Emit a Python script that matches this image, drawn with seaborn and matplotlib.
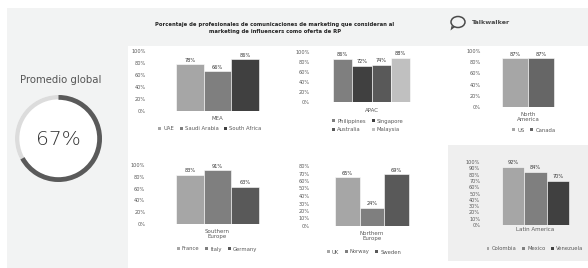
import numpy as np
import pandas as pd
import matplotlib
matplotlib.use("Agg")
import matplotlib.pyplot as plt
import seaborn as sns
from matplotlib.patches import Rectangle, Wedge, Circle, Ellipse, Polygon

sns.set_theme(style="white")
plt.rcParams['font.family'] = ['DejaVu Sans']

W, H = 588, 268

# ---------------- data ----------------
title = ("Porcentaje de profesionales de comunicaciones de marketing que consideran al\n"
         "marketing de influencers como oferta de RP")
brand = "Talkwalker"
global_label = "Promedio global"
global_value = 67

mea_region = "MEA"
mea_countries = ["UAE", "Saudi Arabia", "South Africa"]
mea_values = [78, 66, 86]

apac_region = "APAC"
apac_countries = ["Philippines", "Singapore", "Australia", "Malaysia"]
apac_values = [86, 72, 74, 88]

na_region = "North\nAmerica"
na_countries = ["US", "Canada"]
na_values = [87, 87]

se_region = "Southern\nEurope"
se_countries = ["France", "Italy", "Germany"]
se_values = [83, 91, 63]

ne_region = "Northern\nEurope"
ne_countries = ["UK", "Norway", "Sweden"]
ne_values = [65, 24, 69]

la_region = "Latin America"
la_countries = ["Colombia", "Mexico", "Venezuela"]
la_values = [92, 84, 70]

# ---------------- figure ----------------
fig = plt.figure(figsize=(W / 100, H / 100), dpi=100, facecolor="white")


def fx(px):
    return px / W


def fy(py):
    return 1 - py / H


def frect(x0, y0, x1, y1, color):
    fig.patches.append(Rectangle((fx(x0), fy(y1)), (x1 - x0) / W, (y1 - y0) / H,
                                 transform=fig.transFigure, facecolor=color,
                                 edgecolor="none", zorder=-10))


# backgrounds
frect(7, 8, 588, 268, "#f2f3f3")
frect(128, 46, 588, 268, "#ffffff")
frect(448, 145, 588, 261, "#efefef")

# title and brand
fig.text(fx(275), fy(28), title, ha="center", va="center", fontsize=3.8,
         fontweight="bold", color="#222222", linespacing=1.45)
fig.text(fx(472), fy(22.5), brand, ha="left", va="center", fontsize=4.6,
         fontweight="bold", color="#4a4a4a")
fig.patches.append(Ellipse((fx(458), fy(22)), 14 / W, 11 / H, transform=fig.transFigure,
                           facecolor="none", edgecolor="#4a4a4a", linewidth=1.1))
fig.patches.append(Polygon([(fx(451.5), fy(26)), (fx(455), fy(27)), (fx(450.5), fy(30.5))],
                           closed=True, transform=fig.transFigure,
                           facecolor="#4a4a4a", edgecolor="none"))

# donut (global average)
fig.text(fx(61), fy(80), global_label, ha="center", va="center", fontsize=7.3,
         color="#555555")
axd = fig.add_axes([fx(10), fy(187), 97 / W, 97 / H])
lim = 48.5 / 43.5
axd.set_xlim(-lim, lim)
axd.set_ylim(-lim, lim)
axd.axis("off")
axd.add_patch(Circle((0, 0), 1.0, facecolor="white", edgecolor="none"))
axd.add_patch(Wedge((0, 0), 1.0, 0, 360, width=0.1, facecolor="#dcdcdc", edgecolor="none"))
axd.add_patch(Wedge((0, 0), 1.0, 90 - 3.6 * global_value, 90, width=0.11,
                    facecolor="#5a5a5a", edgecolor="none"))
axd.text(0, -0.03, f"{global_value}%", ha="center", va="center", fontsize=14.5,
         color="#333333", fontweight="light")


def panel(region, countries, values, colors, left, right, y0, ytop, ymax, ystep,
          width, ytick_pad, xlab_pad, leg_xy, ncol, leg_order=None):
    ax = fig.add_axes([fx(left), fy(y0), (right - left) / W, (y0 - ytop) / H])
    df = pd.DataFrame({"region": [region] * len(countries),
                       "country": countries, "value": values})
    sns.barplot(data=df, x="region", y="value", hue="country", hue_order=countries,
                palette=colors, width=width, saturation=1, ax=ax, legend=False,
                edgecolor="white", linewidth=0.4)
    ax.set_xlim(-0.5, 0.5)
    ax.set_ylim(0, ymax)
    ticks = np.arange(0, ymax + 1, ystep)
    ax.set_yticks(ticks)
    ax.set_yticklabels([f"{t}%" for t in ticks])
    for c in ax.containers:
        ax.bar_label(c, fmt="%g%%", fontsize=3.6, padding=1.2, color="#333333")
    for s in ax.spines.values():
        s.set_visible(False)
    ax.axhline(0, color="#d9d9d9", linewidth=0.7, zorder=0)
    ax.patch.set_alpha(0)
    ax.tick_params(axis="y", length=0, pad=ytick_pad, labelsize=3.6, labelcolor="#595959")
    ax.tick_params(axis="x", length=0, pad=xlab_pad, labelsize=4, labelcolor="#595959")
    for t in ax.get_xticklabels():
        t.set_linespacing(1.0)
    ax.set_xlabel("")
    ax.set_ylabel("")
    handles = [Rectangle((0, 0), 1, 1, facecolor=c, edgecolor="none") for c in colors]
    labels = list(countries)
    if leg_order is not None:
        handles = [handles[i] for i in leg_order]
        labels = [labels[i] for i in leg_order]
    fig.legend(handles, labels, loc="center", bbox_to_anchor=(fx(leg_xy[0]), fy(leg_xy[1])),
               bbox_transform=fig.transFigure, ncol=ncol, frameon=False, fontsize=3.8,
               handlelength=0.55, handleheight=0.55, handletextpad=0.4,
               columnspacing=1.1, labelspacing=0.7, labelcolor="#595959",
               borderpad=0, borderaxespad=0)
    return ax


panel(mea_region, mea_countries, mea_values, ["#a6a6a6", "#7f7f7f", "#404040"],
      152, 283, 111, 51, 100, 20, 0.626, 4.3, 3.6, (210, 129), 3)
panel(apac_region, apac_countries, apac_values, ["#7f7f7f", "#404040", "#595959", "#c0c0c0"],
      315, 428, 102, 52, 100, 20, 0.69, 3.6, 4.0, (368, 125.5), 2, [0, 2, 1, 3])
panel(na_region, na_countries, na_values, ["#a6a6a6", "#666666"],
      483, 573, 107, 51, 100, 20, 0.578, 1.5, 3.6, (534, 130), 2)
panel(se_region, se_countries, se_values, ["#a6a6a6", "#7f7f7f", "#595959"],
      152, 283, 224, 165, 100, 20, 0.634, 4.8, 3.6, (217, 249), 3)
panel(ne_region, ne_countries, ne_values, ["#a6a6a6", "#7f7f7f", "#595959"],
      312, 432, 226, 166, 80, 10, 0.61, 1.5, 3.6, (364, 252), 3)
panel(la_region, la_countries, la_values, ["#a6a6a6", "#7f7f7f", "#404040"],
      483, 588, 225, 162, 100, 10, 0.64, 2.0, 1.5, (535, 249), 3)

fig.savefig("out.png", dpi=100, facecolor="white")
